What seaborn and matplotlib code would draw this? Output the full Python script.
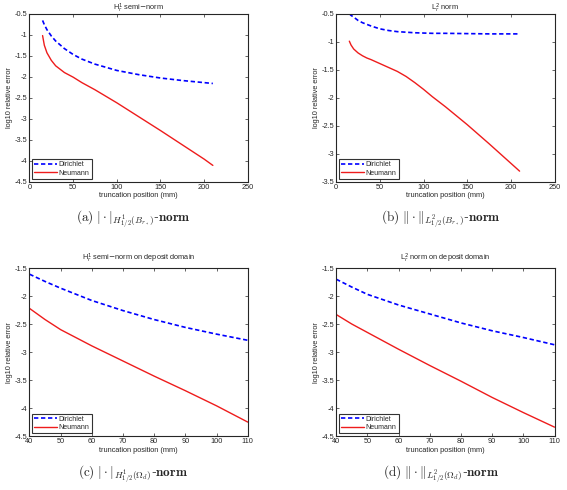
import numpy as np
import pandas as pd
import matplotlib
matplotlib.use("Agg")
import matplotlib.pyplot as plt
import seaborn as sns
from matplotlib.ticker import FuncFormatter, MultipleLocator

# ---- data ----
a_x = [15, 17, 20, 25, 30, 40, 50, 60, 75, 100, 125, 150, 175, 200, 210]
a_dirichlet = [-0.66, -0.76, -0.88, -1.03, -1.15, -1.33, -1.47, -1.58, -1.70, -1.85, -1.95, -2.03, -2.09, -2.14, -2.16]
a_neumann = [-1.02, -1.25, -1.43, -1.61, -1.74, -1.90, -2.01, -2.14, -2.31, -2.62, -2.95, -3.28, -3.62, -3.96, -4.11]

b_x = [15, 17, 20, 25, 30, 35, 40, 50, 60, 70, 80, 90, 100, 110, 125, 150, 175, 200, 210]
b_dirichlet = [-0.50, -0.53, -0.56, -0.62, -0.66, -0.69, -0.72, -0.77, -0.80, -0.82, -0.83, -0.84, -0.845,
               -0.85, -0.85, -0.855, -0.86, -0.86, -0.86]
b_neumann = [-0.99, -1.06, -1.13, -1.20, -1.25, -1.29, -1.32, -1.39, -1.46, -1.53, -1.62, -1.73, -1.85,
             -1.98, -2.16, -2.48, -2.82, -3.17, -3.31]

x_cd = [40, 45, 50, 60, 70, 80, 90, 100, 110]
c_dirichlet = [-1.61, -1.74, -1.86, -2.08, -2.26, -2.42, -2.56, -2.68, -2.79]
c_neumann = [-2.22, -2.42, -2.60, -2.89, -3.16, -3.43, -3.69, -3.96, -4.25]
d_dirichlet = [-1.70, -1.84, -1.97, -2.16, -2.32, -2.48, -2.62, -2.74, -2.87]
d_neumann = [-2.33, -2.50, -2.65, -2.95, -3.24, -3.52, -3.81, -4.08, -4.34]

titles = [r"H$^1_r$ semi$-$norm", r"L$^2_r$ norm",
          r"H$^1_r$ semi$-$norm on deposit domain", r"L$^2_r$ norm on deposit domain"]
captions = [r"$\mathrm{(a)}\ |\cdot|_{H^1_{1/2}(B_{r_*})}$-$\mathbf{norm}$",
            r"$\mathrm{(b)}\ \|\cdot\|_{L^2_{1/2}(B_{r_*})}$-$\mathbf{norm}$",
            r"$\mathrm{(c)}\ |\cdot|_{H^1_{1/2}(\Omega_d)}$-$\mathbf{norm}$",
            r"$\mathrm{(d)}\ \|\cdot\|_{L^2_{1/2}(\Omega_d)}$-$\mathbf{norm}$"]
series_labels = ["Dirichlet", "Neumann"]
xlabel = "truncation position (mm)"
ylabel = "log10 relative error"

sns.set_style("ticks")
plt.rcParams["font.family"] = ["Liberation Sans", "DejaVu Sans"]
plt.rcParams["axes.unicode_minus"] = False
plt.rcParams["mathtext.fontset"] = "dejavusans"

fig = plt.figure(figsize=(5.67, 4.90), dpi=100)
W, H = 0.385, 0.343
positions = [(0.052, 0.629), (0.593, 0.629), (0.052, 0.110), (0.593, 0.110)]
xs = [a_x, b_x, x_cd, x_cd]
dirs = [a_dirichlet, b_dirichlet, c_dirichlet, d_dirichlet]
neus = [a_neumann, b_neumann, c_neumann, d_neumann]
xlims = [(0, 250), (0, 250), (40, 110), (40, 110)]
xsteps = [50, 50, 10, 10]
ylims = [(-4.5, -0.5), (-3.5, -0.5), (-4.5, -1.5), (-4.5, -1.5)]
cap_x = [0.235, 0.778, 0.235, 0.778]
cap_y = [0.551, 0.551, 0.031, 0.031]
title_pads = [2.0, 2.0, 5.5, 5.5]

fs = 5.3
fmt = FuncFormatter(lambda v, p: "%g" % v)
for i in range(4):
    ax = fig.add_axes([positions[i][0], positions[i][1], W, H])
    df = pd.DataFrame({"x": xs[i], "Dirichlet": dirs[i], "Neumann": neus[i]})
    sns.lineplot(data=df, x="x", y="Dirichlet", ax=ax, color="#0000ff", lw=1.2,
                 label=series_labels[0])
    ax.lines[-1].set_dashes((2.6, 1.6))
    sns.lineplot(data=df, x="x", y="Neumann", ax=ax, color="#ee1c1c", lw=1.0,
                 label=series_labels[1])
    ax.set_xlim(*xlims[i])
    ax.set_ylim(*ylims[i])
    ax.xaxis.set_major_locator(MultipleLocator(xsteps[i]))
    ax.yaxis.set_major_locator(MultipleLocator(0.5))
    ax.xaxis.set_major_formatter(fmt)
    ax.yaxis.set_major_formatter(fmt)
    ax.tick_params(direction="in", top=True, right=True, labelsize=fs, length=2.5,
                   width=0.5, pad=1.5)
    for s in ax.spines.values():
        s.set_linewidth(0.8)
    ax.set_xlabel(xlabel, fontsize=fs, labelpad=1)
    ax.set_ylabel(ylabel, fontsize=fs, labelpad=1)
    ax.set_title(titles[i], fontsize=fs, pad=title_pads[i])
    leg = ax.legend(loc="lower left", fontsize=fs * 0.95, frameon=True, fancybox=False,
                    borderpad=0.3, handlelength=3.2, handletextpad=0.3, labelspacing=0.2,
                    borderaxespad=0.4)
    leg.get_frame().set_edgecolor("black")
    leg.get_frame().set_linewidth(0.8)
    fig.text(cap_x[i], cap_y[i], captions[i], ha="center", va="center", fontsize=9.5,
             family="DejaVu Serif", math_fontfamily="cm")

fig.savefig("out.png", dpi=100)
